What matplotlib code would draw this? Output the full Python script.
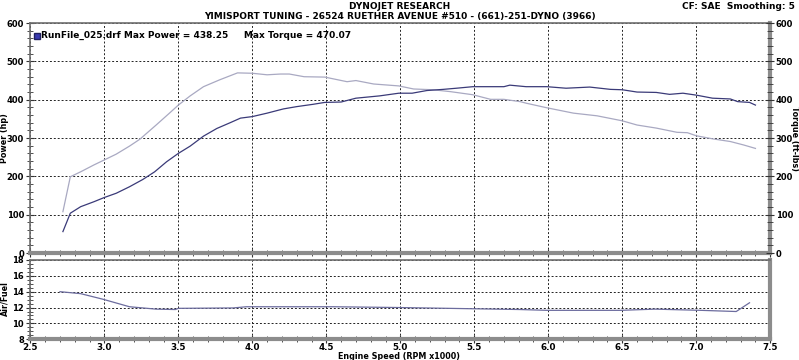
import matplotlib

matplotlib.use("Agg")
import matplotlib.pyplot as plt
from matplotlib.ticker import MultipleLocator

# data (x = RPM x1000)
power_rpm = [2.72, 2.77, 2.84, 2.93, 3.00, 3.08, 3.17, 3.26, 3.34, 3.42, 3.50, 3.58, 3.67, 3.76,
             3.85, 3.92, 4.00, 4.10, 4.21, 4.30, 4.41, 4.49, 4.60, 4.70, 4.86, 4.99, 5.08, 5.18,
             5.29, 5.38, 5.49, 5.61, 5.70, 5.74, 5.85, 5.99, 6.12, 6.28, 6.42, 6.50, 6.60, 6.73,
             6.82, 6.91, 7.00, 7.11, 7.23, 7.28, 7.36, 7.40]
power_hp = [56, 104, 121, 134, 145, 156, 173, 192, 212, 238, 260, 279, 305, 325,
            340, 352, 356, 365, 376, 382, 388, 393, 394, 404, 410, 417, 417, 424,
            427, 430, 434, 434, 434, 438, 434, 434, 430, 433, 427, 426, 420, 419,
            414, 417, 412, 404, 402, 395, 393, 386]

torque_rpm = [2.72, 2.77, 2.84, 2.93, 3.00, 3.08, 3.17, 3.24, 3.35, 3.44, 3.50, 3.58, 3.67, 3.78,
              3.90, 4.00, 4.10, 4.19, 4.25, 4.35, 4.49, 4.64, 4.70, 4.82, 4.99, 5.09, 5.22, 5.34,
              5.49, 5.61, 5.70, 5.81, 5.85, 5.99, 6.17, 6.33, 6.50, 6.60, 6.73, 6.87, 6.94, 7.00,
              7.11, 7.23, 7.32, 7.40]
torque_ftlb = [108, 199, 212, 230, 243, 258, 279, 297, 334, 365, 386, 410, 434, 452,
               470, 469, 465, 467, 467, 460, 459, 447, 450, 441, 436, 428, 426, 421,
               413, 401, 401, 395, 391, 379, 365, 358, 345, 334, 326, 315, 314, 306,
               298, 291, 282, 273]

afr_rpm = [2.70, 2.84, 2.99, 3.17, 3.35, 3.48, 3.50, 3.87, 3.96, 4.55, 5.00, 5.81, 5.99, 6.49,
           6.72, 7.03, 7.27, 7.36]
afr = [14.0, 13.75, 13.05, 12.1, 11.8, 11.75, 11.9, 11.95, 12.1, 12.1, 12.0, 11.75, 11.65, 11.65,
       11.8, 11.65, 11.5, 12.6]

POWER_C = "#3a3a78"
TORQUE_C = "#a9a9c2"
AFR_C = "#6c6c9e"
FRAME_C = "#8c8c8c"

plt.rcParams["font.family"] = "DejaVu Sans"
plt.rcParams["font.weight"] = "bold"
plt.rcParams["font.size"] = 6.5
plt.rcParams["xtick.labelsize"] = 6.3
plt.rcParams["ytick.labelsize"] = 6.0

fig = plt.figure(figsize=(7.99, 3.6), dpi=100)
ax = fig.add_axes([0.038, 0.297, 0.926, 0.639])
ax2 = fig.add_axes([0.038, 0.0575, 0.926, 0.2205])


def style(a):
    a.set_xlim(2.5, 7.5)
    a.grid(True, linestyle=(0, (2, 2)), color="#222222", linewidth=0.7)
    a.xaxis.set_major_locator(MultipleLocator(0.5))
    a.xaxis.set_minor_locator(MultipleLocator(0.1))
    for s in ("top", "left"):
        a.spines[s].set_color("#6e6e6e")
        a.spines[s].set_linewidth(1.2)
    for s in ("bottom", "right"):
        a.spines[s].set_color(FRAME_C)
        a.spines[s].set_linewidth(3.0)
    a.tick_params(which="both", direction="inout", colors="#333333", labelcolor="black", pad=1.5)
    a.tick_params(which="major", length=6, width=0.8)
    a.tick_params(which="minor", length=4, width=0.6)


# top: power / torque
style(ax)
ax.plot(torque_rpm, torque_ftlb, color=TORQUE_C, lw=0.9)
ax.plot(power_rpm, power_hp, color=POWER_C, lw=0.9)
ax.set_ylim(0, 600)
ax.yaxis.set_major_locator(MultipleLocator(100))
ax.yaxis.set_minor_locator(MultipleLocator(20))
ax.tick_params(axis="x", which="both", labelbottom=False)

axr = ax.twinx()
axr.set_ylim(0, 600)
axr.yaxis.set_major_locator(MultipleLocator(100))
axr.yaxis.set_minor_locator(MultipleLocator(20))
axr.tick_params(which="both", direction="inout", colors="#333333", labelcolor="black", pad=1)
axr.tick_params(which="major", length=6, width=0.8)
axr.tick_params(which="minor", length=4, width=0.6)
for s in axr.spines.values():
    s.set_visible(False)

ax.plot([2.545], [567], marker="s", ms=5, color="#3a3ab0", mec="#202060")
ax.text(2.57, 567, "RunFile_025.drf Max Power = 438.25     Max Torque = 470.07",
        va="center", ha="left", fontsize=6.5)

# bottom: air/fuel
style(ax2)
ax2.plot(afr_rpm, afr, color=AFR_C, lw=0.9)
ax2.set_ylim(8, 18)
ax2.yaxis.set_major_locator(MultipleLocator(2))
ax2.yaxis.set_minor_locator(MultipleLocator(0.5))
ax2.tick_params(axis="x", which="both", pad=0)

# axis titles placed in figure pixels like the dyno printout
fig.text(4.5 / 799, 1 - 138 / 360, "Power (hp)", rotation=90, ha="center", va="center",
         fontsize=5.8)
fig.text(794 / 799, 1 - 138 / 360, "Torque (ft-lbs)", rotation=270, ha="center", va="center",
         fontsize=5.8)
fig.text(4.5 / 799, 1 - 299 / 360, "Air/Fuel", rotation=90, ha="center", va="center",
         fontsize=5.8)
fig.text(0.5, 1 - 356.5 / 360, "Engine Speed (RPM x1000)", ha="center", va="center",
         fontsize=5.8)

fig.text(0.5, 0.982, "DYNOJET RESEARCH", ha="center", va="center", fontsize=6.5)
fig.text(0.5, 0.955, "YIMISPORT TUNING - 26524 RUETHER AVENUE #510 - (661)-251-DYNO (3966)",
         ha="center", va="center", fontsize=6.5)
fig.text(0.995, 0.982, "CF: SAE  Smoothing: 5", ha="right", va="center", fontsize=6.5)

fig.savefig("out.png", dpi=100)
